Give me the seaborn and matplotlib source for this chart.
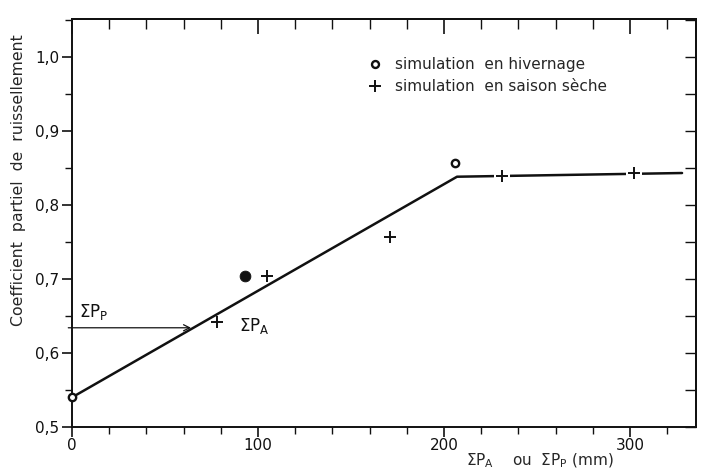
import matplotlib
matplotlib.use("Agg")
import matplotlib.pyplot as plt
import seaborn as sns
import pandas as pd
from matplotlib.ticker import FixedLocator, MultipleLocator, FuncFormatter
from matplotlib.lines import Line2D

# ---- data ----
line_x = [0, 207, 328]
line_y = [0.54, 0.838, 0.843]

hiv_x = [0, 206]            # simulation en hivernage (open circles)
hiv_y = [0.54, 0.857]
hiv_fill_x = [93]           # printed as a filled dot
hiv_fill_y = [0.704]

sec_x = [78, 105, 171, 231, 302]   # simulation en saison sèche (+)
sec_y = [0.642, 0.704, 0.757, 0.839, 0.843]

arrow_y = 0.634
arrow_x = [-2, 64]

x_major = [0, 100, 200, 300]
y_major = [0.5, 0.6, 0.7, 0.8, 0.9, 1.0]

legend_labels = ["simulation  en hivernage", "simulation  en saison sèche"]
ylabel = "Coefficient  partiel  de  ruissellement"
xlabel = r"$\Sigma P_A$    ou  $\Sigma P_P$ (mm)"

# ---- style ----
sns.set_style("ticks")
plt.rcParams["font.family"] = ["DejaVu Sans"]
plt.rcParams["mathtext.default"] = "regular"
plt.rcParams["font.size"] = 11

fig = plt.figure(figsize=(7.01, 4.70), dpi=100)
ax = fig.add_axes([72 / 701, 1 - 427 / 470, (696 - 72) / 701, (427 - 19) / 470])

ink = "#111111"

df_line = pd.DataFrame({"x": line_x, "y": line_y})
sns.lineplot(data=df_line, x="x", y="y", ax=ax, color=ink, lw=1.8, sort=False)

# small gaps in the flat part around the + markers
flat = [(x, y) for x, y in zip(sec_x, sec_y) if x > line_x[1]]
sns.scatterplot(x=[p[0] for p in flat], y=[p[1] for p in flat], ax=ax,
                marker="s", s=130, color="white", edgecolor="none", zorder=3)

sns.scatterplot(x=sec_x, y=sec_y, ax=ax, marker="+", s=75, color=ink,
                linewidth=1.4, zorder=4)
sns.scatterplot(x=hiv_x, y=hiv_y, ax=ax, marker="o", s=28, facecolor="white",
                edgecolor=ink, linewidth=1.7, zorder=5, clip_on=False)
sns.scatterplot(x=hiv_fill_x, y=hiv_fill_y, ax=ax, marker="o", s=60,
                color=ink, edgecolor=ink, zorder=5)

ax.annotate("", xy=(arrow_x[1], arrow_y), xytext=(arrow_x[0], arrow_y),
            arrowprops=dict(arrowstyle="->", lw=0.9, color=ink,
                            shrinkA=0, shrinkB=0))
ax.text(4, 0.655, r"$\Sigma P_P$", fontsize=12, ha="left", va="center", color=ink)
ax.text(90, 0.637, r"$\Sigma P_A$", fontsize=12, ha="left", va="center", color=ink)

# ---- axes ----
ax.set_xlim(0, 335.5)
ax.set_ylim(0.5, 1.051)
ax.xaxis.set_major_locator(FixedLocator(x_major))
ax.xaxis.set_minor_locator(MultipleLocator(20))
ax.yaxis.set_major_locator(FixedLocator(y_major))
ax.yaxis.set_minor_locator(MultipleLocator(0.05))
ax.yaxis.set_major_formatter(FuncFormatter(lambda v, p: f"{v:.1f}".replace(".", ",")))
ax.tick_params(which="major", length=7, width=1.2, colors=ink, labelsize=11, pad=2)
ax.tick_params(axis="x", which="major", pad=1)
ax.tick_params(which="minor", length=5, width=1.0, colors=ink)

for s in ax.spines.values():
    s.set_linewidth(1.4)
    s.set_color(ink)

top = ax.secondary_xaxis("top")
top.xaxis.set_major_locator(FixedLocator(x_major))
top.xaxis.set_minor_locator(MultipleLocator(20))
top.tick_params(which="major", direction="in", length=11, width=1.2, labeltop=False, colors=ink)
top.tick_params(which="minor", direction="in", length=7, width=1.0, colors=ink)
top.spines["top"].set_linewidth(1.4)

right = ax.secondary_yaxis("right")
right.yaxis.set_major_locator(MultipleLocator(0.05))
right.tick_params(which="major", direction="in", length=8, width=1.0, labelright=False, colors=ink)
right.spines["right"].set_linewidth(1.4)

ax.set_xlabel(xlabel, fontsize=11)
ax.xaxis.label.set_va("center")
ax.xaxis.set_label_coords(0.75, -0.082)
ax.set_ylabel(ylabel, fontsize=11.3)
ax.yaxis.label.set_va("center")
ax.yaxis.set_label_coords(-0.085, 0.605)

handles = [
    Line2D([], [], marker="o", ls="none", markerfacecolor="white",
           markeredgecolor=ink, markeredgewidth=1.7, markersize=5),
    Line2D([], [], marker="+", ls="none", color=ink, markeredgewidth=1.4, markersize=8.5),
]
ax.legend(handles, legend_labels, loc="upper left", bbox_to_anchor=(0.452, 0.94),
          frameon=False, handlelength=1.0, handletextpad=0.8, labelspacing=0.45,
          fontsize=11)

fig.savefig("out.png", dpi=100)
